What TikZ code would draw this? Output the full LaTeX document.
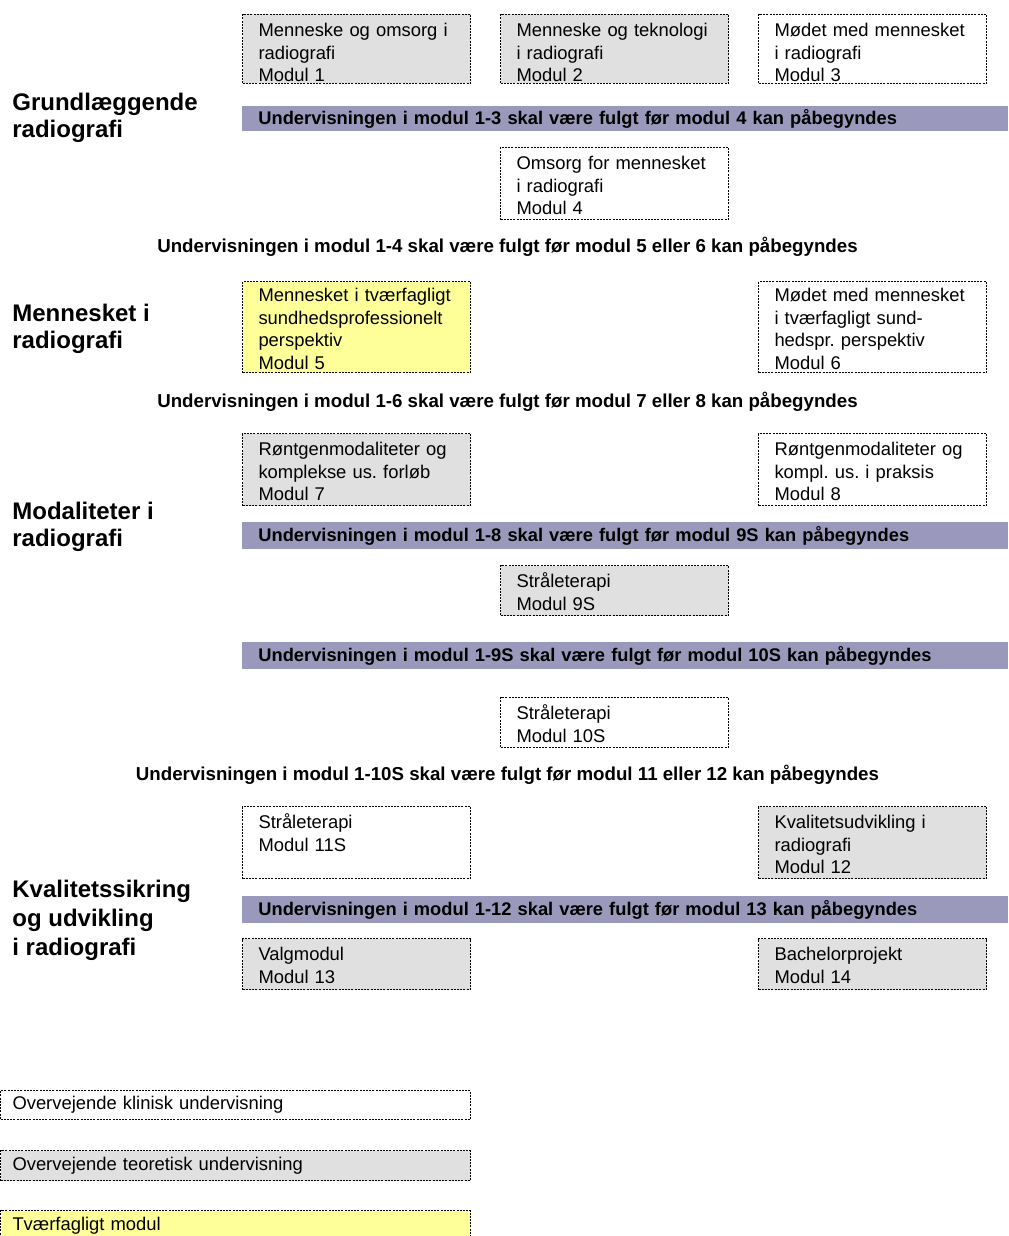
\documentclass[tikz,border=0pt]{standalone}
\usepackage{fontspec}
\setmainfont{Liberation Sans}
\usepackage{tikz}
\usetikzlibrary{positioning}

\definecolor{teori}{HTML}{E0E0E0}
\definecolor{tvaer}{HTML}{FFFF99}
\definecolor{kravfarve}{HTML}{9A99BC}
\newcommand{\modulfont}{\fontsize{9.2}{11.3}\selectfont}
\newcommand{\kravfont}{\fontsize{9.15}{11.3}\selectfont\bfseries}
\newcommand{\fasefont}{\fontsize{12}{13.5}\selectfont\bfseries}
\frenchspacing

\begin{document}
\begin{tikzpicture}[x=0.5pt, y=-0.5pt, font=\modulfont,
    modul/.style={draw, line width=0.5pt, dash pattern=on 1pt off 0.6pt,
      anchor=north west, inner xsep=8pt, inner ysep=0pt, text width=98pt,
      text height=11pt, text depth=#1, align=left},
    kravbar/.style={fill=kravfarve, anchor=north west, minimum width=383pt,
      minimum height=13.5pt, inner xsep=8pt, inner ysep=0pt, text width=367pt,
      align=left, font=\kravfont},
    krav/.style={anchor=base, font=\fontsize{9.35}{11.3}\selectfont\bfseries},
    fase/.style={anchor=base west, inner sep=0pt, align=left, font=\fasefont},
    forklaring/.style={draw, line width=0.5pt, dash pattern=on 1pt off 0.6pt,
      anchor=north west, minimum width=235pt, minimum height=15pt,
      inner xsep=6pt, inner ysep=0pt, text width=223pt, align=left}]
    \useasboundingbox (0,0) rectangle (1008,1236);

    % Grundlaeggende radiografi
    \node[fase] (f1) at (12,138) {Grundlæggende\\radiografi};
    \node[modul=23.5pt, fill=teori] (m1) at (242,14) {Menneske og omsorg i\\radiografi\\Modul 1};
    \node[modul=23.5pt, fill=teori] (m2) at (500,14) {Menneske og teknologi\\i radiografi\\Modul 2};
    \node[modul=23.5pt] (m3) at (758,14) {Mødet med mennesket\\i radiografi\\Modul 3};
    \node[kravbar, minimum height=12.5pt] (k4) at (242,106) {Undervisningen i modul 1-3 skal være fulgt før modul 4 kan påbegyndes};
    \node[modul=25pt] (m4) at (500,147) {Omsorg for mennesket\\i radiografi\\Modul 4};
    \node[krav] (k56) at (507.5,252) {Undervisningen i modul 1-4 skal være fulgt før modul 5 eller 6 kan påbegyndes};

    % Mennesket i radiografi
    \node[fase] (f2) at (12,348) {Mennesket i\\radiografi};
    \node[modul=35.5pt, text height=10pt, fill=tvaer] (m5) at (242,281) {Mennesket i tværfagligt\\sundhedsprofessionelt\\perspektiv\\Modul 5};
    \node[modul=35.5pt, text height=10pt] (m6) at (758,281) {Mødet med mennesket\\i tværfagligt sund-\\hedspr. perspektiv\\Modul 6};
    \node[krav] (k78) at (507.5,407) {Undervisningen i modul 1-6 skal være fulgt før modul 7 eller 8 kan påbegyndes};

    % Modaliteter i radiografi
    \node[fase] (f3) at (12,546) {Modaliteter i\\radiografi};
    \node[modul=25pt, fill=teori] (m7) at (242,433) {Røntgenmodaliteter og\\komplekse us. forløb\\Modul 7};
    \node[modul=25pt] (m8) at (758,433) {Røntgenmodaliteter og\\kompl. us. i praksis\\Modul 8};
    \node[kravbar] (k9) at (242,522) {Undervisningen i modul 1-8 skal være fulgt før modul 9S kan påbegyndes};
    \node[modul=14pt, fill=teori] (m9) at (500,565) {Stråleterapi\\Modul 9S};
    \node[kravbar] (k10) at (242,642) {Undervisningen i modul 1-9S skal være fulgt før modul 10S kan påbegyndes};
    \node[modul=14pt] (m10) at (500,697) {Stråleterapi\\Modul 10S};
    \node[krav] (k1112) at (507.5,780) {Undervisningen i modul 1-10S skal være fulgt før modul 11 eller 12 kan påbegyndes};

    % Kvalitetssikring og udvikling
    \node[fase, font=\fontsize{12}{14.5}\selectfont\bfseries] (f4) at (12,955) {Kvalitetssikring\\og udvikling\\i radiografi};
    \node[modul=25pt] (m11) at (242,806) {Stråleterapi\\Modul 11S};
    \node[modul=25pt, fill=teori] (m12) at (758,806) {Kvalitetsudvikling i\\radiografi\\Modul 12};
    \node[kravbar] (k13) at (242,896) {Undervisningen i modul 1-12 skal være fulgt før modul 13 kan påbegyndes};
    \node[modul=14.5pt, fill=teori] (m13) at (242,938) {Valgmodul\\Modul 13};
    \node[modul=14.5pt, fill=teori] (m14) at (758,938) {Bachelorprojekt\\Modul 14};

    % forklaring
    \node[forklaring, minimum height=14.5pt] (klinisk) at (0,1090) {Overvejende klinisk undervisning};
    \node[forklaring, fill=teori] (teoretisk) at (0,1150) {Overvejende teoretisk undervisning};
    \node[forklaring, fill=tvaer] (tvaerfaglig) at (0,1210) {Tværfagligt modul};
\end{tikzpicture}
\end{document}
